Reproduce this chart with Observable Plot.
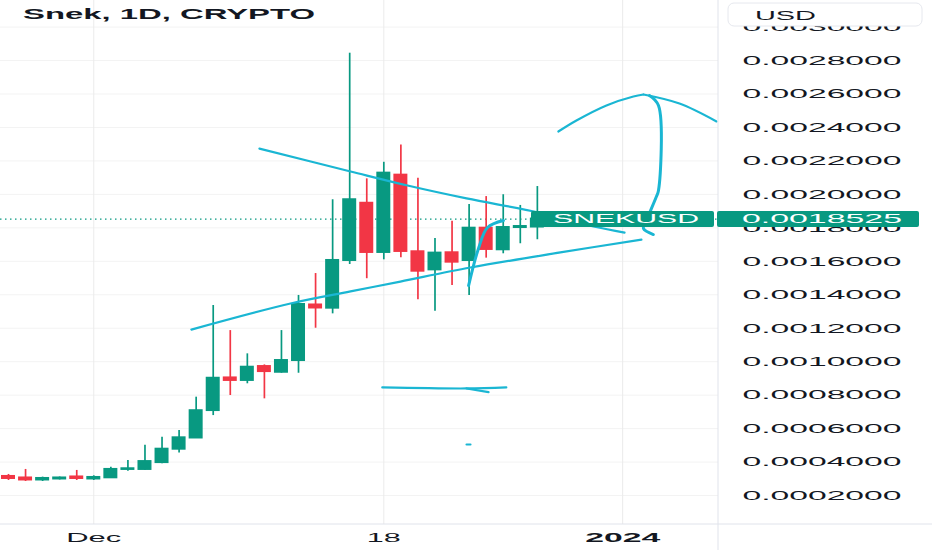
<!DOCTYPE html>
<html><head><meta charset="utf-8">
<script src="https://cdn.jsdelivr.net/npm/d3@7"></script>
<script src="https://cdn.jsdelivr.net/npm/@observablehq/plot@0.6"></script>
<style>body{margin:0;background:#fff;} svg{display:block}</style>
</head><body><div id="chart"></div>
<script>
const title = "Snek, 1D, CRYPTO";
const symbol = "SNEKUSD";
const currency = "USD";
const dates = ["2023-11-26","2023-11-27","2023-11-28","2023-11-29","2023-11-30","2023-12-01","2023-12-02","2023-12-03",
  "2023-12-04","2023-12-05","2023-12-06","2023-12-07","2023-12-08","2023-12-09","2023-12-10","2023-12-11",
  "2023-12-12","2023-12-13","2023-12-14","2023-12-15","2023-12-16","2023-12-17","2023-12-18","2023-12-19",
  "2023-12-20","2023-12-21","2023-12-22","2023-12-23","2023-12-24","2023-12-25","2023-12-26","2023-12-27"];
const opens = [0.000314,0.000305,0.000293,0.000299,0.000311,0.000299,0.000306,0.000356,0.000356,0.000397,0.000477,0.000544,
  0.000708,0.000903,0.000888,0.000971,0.000937,0.001007,0.001339,0.001320,0.001605,0.001947,0.001653,0.002115,
  0.001657,0.001549,0.001651,0.001605,0.001798,0.001669,0.001802,0.001805];
const highs = [0.000326,0.000356,0.000310,0.000311,0.000350,0.000318,0.000369,0.000409,0.000501,0.000549,0.000589,0.000788,
  0.001336,0.001186,0.001047,0.000981,0.001186,0.001396,0.001527,0.001968,0.002844,0.002093,0.002192,0.002296,
  0.002097,0.001736,0.001840,0.001940,0.001987,0.001998,0.001934,0.002047];
const lows = [0.000290,0.000284,0.000284,0.000293,0.000290,0.000290,0.000302,0.000345,0.000351,0.000390,0.000455,0.000541,
  0.000678,0.000798,0.000868,0.000778,0.000931,0.000931,0.001200,0.001286,0.001581,0.001496,0.001609,0.001621,
  0.001370,0.001302,0.001455,0.001396,0.001619,0.001645,0.001705,0.001729];
const closes = [0.000302,0.000293,0.000302,0.000305,0.000302,0.000308,0.000356,0.000360,0.000403,0.000477,0.000545,0.000707,
  0.000901,0.000888,0.000967,0.000941,0.001007,0.001342,0.001321,0.001605,0.001968,0.001653,0.002127,0.001659,
  0.001541,0.001649,0.001595,0.001798,0.001671,0.001802,0.001808,0.0018525];

const yTicks = [0.0002,0.0004,0.0006,0.0008,0.0010,0.0012,0.0014,0.0016,0.0018,0.0020,0.0022,0.0024,0.0026,0.0028,0.0030];
const xTickDates = ["2023-12-01","2023-12-18","2024-01-01"];
const xTickLabels = ["Dec","18","2024"];

// hand-drawn annotations: [days after Dec 1, price]
const upperLine = [[9.71,0.002274],[15.05,0.002137],[18.39,0.002053],[21.85,0.001976],[26.07,0.001892],[29.29,0.001808],[31.11,0.001772]];
const lowerLine = [[5.72,0.001192],[11.53,0.001348],[15.05,0.001420],[17.97,0.001479],[22.08,0.001563],[27.35,0.001653],[32.10,0.001730]];
const arcLeft = [[27.23,0.002376],[28.29,0.002442],[30.05,0.002532],[31.63,0.002585],[32.22,0.002597]];
const arcRight = [[32.22,0.002597],[34.33,0.002543],[36.50,0.002436]];
const arrowStem = [[32.57,0.002591],[33.10,0.002531],[33.10,0.002023],[32.98,0.001987],[32.39,0.001844],[32.22,0.001796],[32.80,0.001760]];
const hook = [[21.97,0.001455],[22.55,0.001677],[23.08,0.001802],[24.01,0.001844]];
const flatStroke = [[16.91,0.000846],[21.85,0.000840],[24.18,0.000846]];
const flatTail = [[21.85,0.000840],[23.14,0.000818]];
const dash = [[21.85,0.000505],[22.08,0.000505]];

const GREEN = "#089981", RED = "#f23645", CYAN = "#1ab6d3";
const DAY = 864e5;
const dec1 = Date.UTC(2023, 11, 1);
const candles = dates.map((d, i) => ({
  date: new Date(d + "T00:00:00Z"), open: opens[i], high: highs[i], low: lows[i], close: closes[i],
  up: closes[i] >= opens[i]
}));
const toPts = arr => arr.map(([t, v]) => ({date: new Date(dec1 + t * DAY), v}));
const lastClose = closes[closes.length - 1];
const xTicks = xTickDates.map(d => new Date(d + "T00:00:00Z"));

const annotations = [upperLine, lowerLine, arcLeft, arcRight, flatStroke, flatTail, dash].map(a =>
  Plot.line(toPts(a), {x: "date", y: "v", stroke: CYAN, strokeWidth: 2.2, curve: "catmull-rom", strokeLinecap: "round"}));

const chart = Plot.plot({
  width: 932, height: 550,
  marginLeft: 0, marginRight: 214, marginTop: 0, marginBottom: 26,
  style: {fontFamily: "'Liberation Sans', Arial, sans-serif", fontSize: "13.5px", color: "#131722", background: "#fff"},
  x: {type: "utc", domain: [new Date(Date.UTC(2023,10,25,12,45)), new Date(Date.UTC(2024,0,6,14,50))]},
  y: {domain: [0.0000269, 0.003159]},
  marks: [
    Plot.gridY(yTicks, {stroke: "#f3f3f3", strokeOpacity: 1}),
    Plot.gridX(xTicks, {stroke: "#ebebeb", strokeOpacity: 1}),
    Plot.ruleY([lastClose], {stroke: GREEN, strokeDasharray: "1.5,3.5", strokeWidth: 1.2}),
    Plot.ruleX(candles, {x: "date", y1: "low", y2: "high", stroke: d => d.up ? GREEN : RED, strokeWidth: 1.7}),
    Plot.rect(candles, {
      x1: d => new Date(+d.date - 0.41 * DAY), x2: d => new Date(+d.date + 0.41 * DAY),
      y1: d => Math.min(d.open, d.close), y2: d => Math.max(d.open, d.close),
      fill: d => d.up ? GREEN : RED, insetTop: -1, insetBottom: -1
    }),
    ...annotations,
    Plot.line(toPts(arrowStem), {x: "date", y: "v", stroke: CYAN, strokeWidth: 3, curve: "catmull-rom", strokeLinecap: "round"}),
    Plot.line(toPts(hook), {x: "date", y: "v", stroke: CYAN, strokeWidth: 3, curve: "catmull-rom", strokeLinecap: "round"}),
    Plot.axisY(yTicks, {anchor: "right", tickSize: 0, tickPadding: 24, tickFormat: d3.format(".7f")}),
    Plot.axisX(xTicks, {anchor: "bottom", tickSize: 0, tickPadding: 8,
      tickFormat: d => xTickLabels[xTicks.findIndex(t => +t === +d)]})
  ]
});
document.getElementById("chart").append(chart);

const svg = d3.select(chart);
const ys = chart.scale("y");
const stretch = (sel, len) => sel.attr("textLength", len).attr("lengthAdjust", "spacingAndGlyphs");

svg.selectAll('g[aria-label="y-axis tick label"] text').each(function() { stretch(d3.select(this), 159); });
const xLens = {"Dec": 55, "18": 34, "2024": 75};
svg.selectAll('g[aria-label="x-axis tick label"] text').each(function() {
  const s = d3.select(this), t = s.text();
  stretch(s, xLens[t]);
  if (t === "2024") s.attr("font-weight", "bold");
});

// chrome lines
svg.append("line").attr("x1", 718).attr("x2", 718).attr("y1", 0).attr("y2", 550).attr("stroke", "#e0e3eb");
svg.append("line").attr("x1", 0).attr("x2", 932).attr("y1", 524).attr("y2", 524).attr("stroke", "#e0e3eb");

// currency box
svg.append("rect").attr("x", 728).attr("y", 3).attr("width", 194).attr("height", 23).attr("rx", 6)
  .attr("fill", "#fff").attr("stroke", "#e6e8ee");
stretch(svg.append("text").attr("x", 755).attr("y", 19.5).attr("text-anchor", "start").attr("fill", "#131722")
  .attr("font-size", 13.5).text(currency), 61);

// last price labels
const py = ys.apply(lastClose);
svg.append("rect").attr("x", 531).attr("y", py - 7.6).attr("width", 183).attr("height", 16).attr("rx", 2).attr("fill", GREEN);
stretch(svg.append("text").attr("x", 553).attr("y", py + 4.8).attr("text-anchor", "start").attr("fill", "#fff")
  .attr("font-size", 13.5).text(symbol), 146);
svg.append("rect").attr("x", 717).attr("y", py - 7.6).attr("width", 202).attr("height", 16).attr("rx", 2).attr("fill", GREEN);
stretch(svg.append("text").attr("x", 742).attr("y", py + 4.8).attr("text-anchor", "start").attr("fill", "#fff")
  .attr("font-size", 13.5).text(d3.format(".7f")(lastClose)), 160);

// title
stretch(svg.append("text").attr("x", 23).attr("y", 19).attr("text-anchor", "start").attr("font-weight", "bold")
  .attr("font-size", 14).attr("fill", "#131722").text(title), 292);
</script>
</body></html>
